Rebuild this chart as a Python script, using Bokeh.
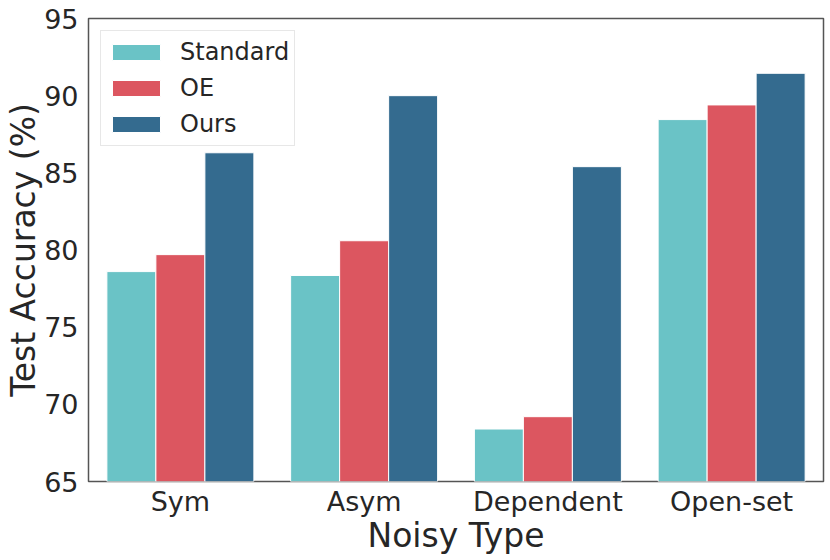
from bokeh.plotting import figure
from bokeh.models import ColumnDataSource, FactorRange, Range1d, FixedTicker, Legend, LegendItem
from bokeh.transform import dodge
from bokeh.embed import file_html
from bokeh.resources import INLINE

categories = ["Sym", "Asym", "Dependent", "Open-set"]
standard = [78.6, 78.35, 68.4, 88.45]
oe = [79.7, 80.6, 69.2, 89.4]
ours = [86.3, 90.0, 85.4, 91.45]
y_ticks = [65, 70, 75, 80, 85, 90, 95]

colors = ["#6AC3C6", "#DC5660", "#346B8F"]
names = ["Standard", "OE", "Ours"]

src = ColumnDataSource(dict(cat=categories, standard=standard, oe=oe, ours=ours))

p = figure(width=826, height=558, x_range=FactorRange(*categories), y_range=Range1d(65, 95),
           output_backend="svg", toolbar_location=None,
           min_border_left=88, min_border_right=3, min_border_top=18, min_border_bottom=77)

bw = 0.8 / 3
renderers = []
for i, (key, c) in enumerate(zip(["standard", "oe", "ours"], colors)):
    r = p.vbar(x=dodge("cat", (i - 1) * bw, range=p.x_range), top=key, bottom=65, width=bw,
               source=src, fill_color=c, line_color="white", line_width=1)
    renderers.append(r)

legend = Legend(items=[LegendItem(label=n, renderers=[r]) for n, r in zip(names, renderers)],
                location="top_left")
legend.label_text_font = "DejaVu Sans"
legend.label_text_font_size = "24px"
legend.label_text_color = "#262626"
legend.glyph_width = 60
legend.glyph_height = 20
legend.label_height = 32
legend.spacing = 4
legend.padding = 5
legend.margin = 12
legend.label_standoff = 14
legend.border_line_color = "#d0d0d0"
legend.border_line_width = 1
legend.background_fill_alpha = 1.0
p.add_layout(legend)

p.grid.visible = False
p.outline_line_color = "#555555"
p.outline_line_width = 1.5

for ax in (p.xaxis[0], p.yaxis[0]):
    ax.axis_line_color = None
    ax.major_tick_line_color = None
    ax.minor_tick_line_color = None
    ax.major_tick_out = 0
    ax.major_tick_in = 0
    ax.minor_tick_out = 0
    ax.major_label_text_font = "DejaVu Sans"
    ax.major_label_text_font_size = "27px"
    ax.major_label_text_color = "#262626"
    ax.axis_label_text_font = "DejaVu Sans"
    ax.axis_label_text_font_size = "33px"
    ax.axis_label_text_font_style = "normal"
    ax.axis_label_text_color = "#262626"

p.yaxis.ticker = FixedTicker(ticks=y_ticks)
p.yaxis.axis_label = "Test Accuracy (%)"
p.xaxis.axis_label = "Noisy Type"
p.yaxis.major_label_standoff = 10
p.xaxis.major_label_standoff = 4
p.yaxis.axis_label_standoff = -2
p.xaxis.axis_label_standoff = -4

open("out.html", "w").write(file_html(p, INLINE))
